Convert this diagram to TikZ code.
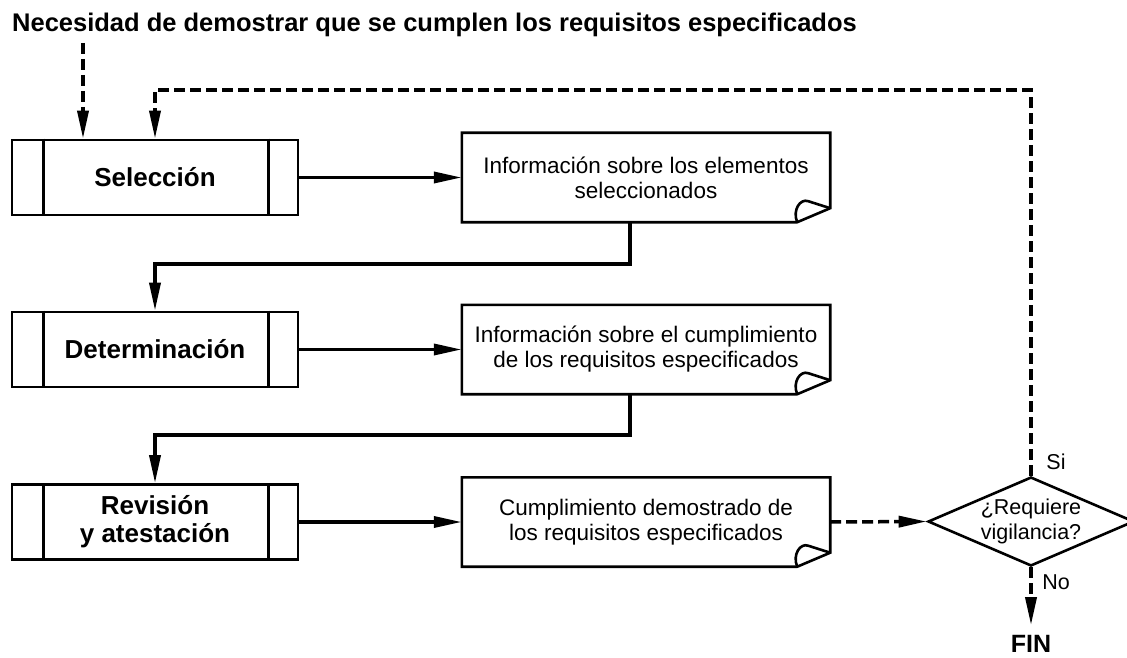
\documentclass[tikz,border=0pt]{standalone}
\usepackage{fontspec}
\setmainfont{Liberation Sans}
\usetikzlibrary{arrows.meta,shapes.geometric,calc}

\begin{document}
\begin{tikzpicture}[x=1pt,y=-1pt,line join=miter,>={Triangle[length=28pt,width=11pt]},
	process/.style={draw,line width=2.6pt,minimum width=286pt,minimum height=75pt,inner sep=0pt,align=center,font=\fontsize{26}{28}\selectfont\bfseries},
	docbox/.style={minimum width=368pt,minimum height=89pt,inner sep=0pt,align=center,font=\fontsize{22.5}{25}\selectfont},
	decision/.style={draw,diamond,line width=2.6pt,minimum width=206pt,minimum height=89pt,inner sep=0pt},
	small/.style={inner sep=0pt,align=center,font=\fontsize{21.5}{25}\selectfont},
	flow/.style={line width=3.5pt,->},
	dflow/.style={line width=3.5pt,dash pattern=on 11pt off 5pt,->}]
	\useasboundingbox (0,0) rectangle (1127,658);
	\node[anchor=base west,inner sep=0pt,font=\fontsize{25.5}{28}\selectfont\bfseries] (need) at (12,32) {Necesidad de demostrar que se cumplen los requisitos especificados};
	% etapas
	\node[process] (sel) at (155,177.5) {Selección};
	\node[process] (det) at (155,349.5) {Determinación};
	\node[process] (rev) at (155,522) {Revisión\\y atestación};
	\foreach \n in {sel,det,rev}{
		\draw[line width=2.6pt] ($(\n.north west)+(33,0)$) -- ($(\n.south west)+(33,0)$);
		\draw[line width=2.6pt] ($(\n.north east)+(-31,0)$) -- ($(\n.south east)+(-31,0)$);
	}
	% documentos
	\node[docbox] (docA) at (646,177.5) {Información sobre los elementos\\seleccionados};
	\node[docbox] (docB) at (646,349.5) {Información sobre el cumplimiento\\de los requisitos especificados};
	\node[docbox] (docC) at (646,522) {Cumplimiento demostrado de\\los requisitos especificados};
	\foreach \n in {docA,docB,docC}{
		\draw[line width=2.6pt] ($(\n.south east)+(-33,0)$) -- (\n.south west) -- (\n.north west) -- (\n.north east) -- ($(\n.south east)+(0,-14)$) -- cycle;
		\draw[line width=2.6pt] ($(\n.south east)+(-33,0)$) .. controls ($(\n.south east)+(-38,-12)$) and ($(\n.south east)+(-30,-24)$) .. ($(\n.south east)+(-22,-21)$) -- ($(\n.south east)+(0,-14)$);
	}
	% decision
	\node[decision] (dec) at (1031,521.5) {};
	\node[small] (dect) at (dec) {¿Requiere\\vigilancia?};
	\node[small] (si) at (1056,462) {Si};
	\node[small] (no) at (1056,582) {No};
	\node[inner sep=0pt,font=\fontsize{25}{28}\selectfont\bfseries] (fin) at (1031,644) {FIN};
	\coordinate (in1) at (83,43);
	\coordinate (back) at (1031,90);
	% conexiones
	\draw[dflow] (in1) -- (in1 |- sel.north);
	\draw[flow] (sel.east) -- (docA.west);
	\draw[flow] ([xshift=-16pt]docA.south) -- ++(0,42) -| (det.north);
	\draw[flow] (det.east) -- (docB.west);
	\draw[flow] ([xshift=-16pt]docB.south) -- ++(0,41) -| (rev.north);
	\draw[flow] (rev.east) -- (docC.west);
	\draw[dflow] (docC.east) -- (dec.west);
	\draw[dflow] (dec.north) -- (back) -| (sel.north);
	\draw[dflow] (dec.south) -- ([yshift=10pt]fin.north);
\end{tikzpicture}
\end{document}
